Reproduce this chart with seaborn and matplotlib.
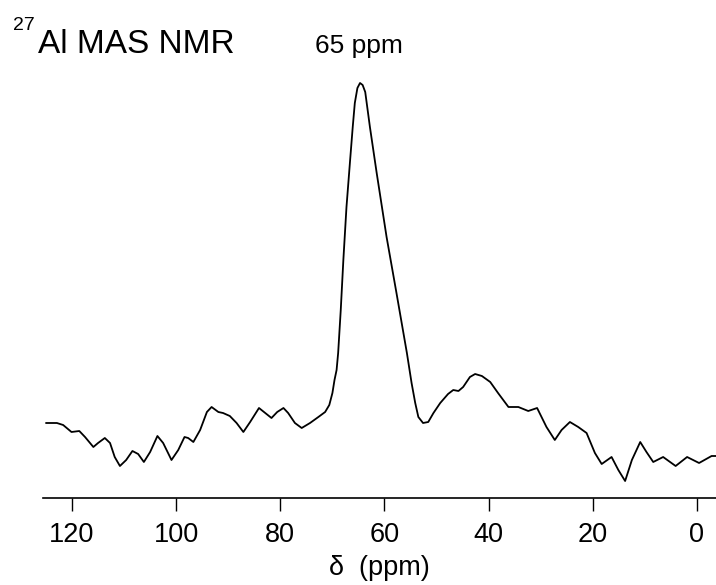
import numpy as np
import pandas as pd
import seaborn as sns
import matplotlib.pyplot as plt

# 27Al MAS NMR spectrum
ppm = [125.0, 122.9, 121.7, 120.1, 118.6, 117.5, 115.9, 115.0, 113.7, 112.7,
       111.8, 110.8, 109.6, 108.4, 107.3, 106.2, 105.0, 103.6, 102.5, 100.9,
       99.6, 98.4, 97.7, 96.7, 95.4, 94.1, 93.2, 91.9, 91.0, 89.7,
       88.4, 87.1, 85.8, 84.1, 82.9, 81.7, 80.6, 79.4, 78.5, 77.2,
       75.9, 74.3, 72.7, 71.4, 70.6, 70.0, 69.6, 69.2, 68.9, 68.4,
       67.9, 67.3, 66.6, 66.1, 65.7, 65.2, 64.7, 64.2, 63.7, 62.8,
       61.5, 59.6, 57.7, 55.7, 54.8, 54.1, 53.5, 52.6, 51.6, 50.6,
       49.3, 47.8, 46.8, 45.8, 44.9, 43.6, 42.6, 41.3, 39.7, 38.2,
       36.2, 34.3, 32.4, 30.7, 28.9, 27.3, 26.0, 24.4, 22.8, 21.2,
       19.6, 18.3, 16.4, 15.1, 13.8, 12.5, 10.9, 9.7, 8.4, 6.5,
       4.1, 1.9, -0.4, -2.8, -3.65]
intensity = [75, 75, 73, 66, 67, 61, 51, 55, 60, 55,
             41, 32, 38, 47, 44, 36, 46, 62, 55, 38,
             48, 61, 60, 56, 68, 86, 91, 86, 85, 82,
             75, 66, 76, 90, 85, 80, 86, 90, 85, 75,
             70, 75, 81, 86, 93, 105, 118, 128, 145, 188,
             238, 291, 338, 371, 395, 410, 415, 413, 406, 371,
             325, 261, 205, 145, 115, 95, 81, 75, 76, 85,
             95, 104, 108, 107, 111, 121, 124, 122, 116, 105,
             91, 91, 87, 90, 71, 58, 68, 76, 71, 65,
             45, 34, 41, 28, 17, 38, 56, 46, 36, 41,
             32, 41, 35, 42, 42]

ticks = [120, 100, 80, 60, 40, 20, 0]

df = pd.DataFrame({'ppm': ppm, 'intensity': intensity})

sns.set_style('ticks')
plt.rcParams['font.family'] = ['Liberation Sans', 'DejaVu Sans']
plt.rcParams['text.color'] = 'black'
plt.rcParams['axes.labelcolor'] = 'black'
plt.rcParams['xtick.color'] = 'black'

W, H = 716, 585
fig = plt.figure(figsize=(W / 100, H / 100), dpi=100)
ax = fig.add_axes([43 / W, 1 - 498 / H, (716 - 43) / W, (498 - 70) / H])

sns.lineplot(data=df, x='ppm', y='intensity', ax=ax, color='black',
             linewidth=1.3, estimator=None, sort=False)

ax.set_xlim(125.57, -3.65)
ax.set_ylim(0, 428)
ax.set_xticks(ticks)
ax.set_xticklabels([str(t) for t in ticks], fontsize=19.5)
ax.set_yticks([])
ax.set_ylabel('')
ax.set_xlabel('δ  (ppm)', fontsize=19.5, labelpad=5)
ax.tick_params(axis='x', direction='out', length=9.5, width=1, pad=8, color='black')
for s in ['top', 'right', 'left']:
    ax.spines[s].set_visible(False)
ax.spines['bottom'].set_linewidth(1.2)
ax.spines['bottom'].set_color('black')
ax.set_facecolor('white')

fig.text(13 / W, 1 - 30 / H, '27', fontsize=14, va='baseline')
fig.text(38 / W, 1 - 53 / H, 'Al MAS NMR', fontsize=24, va='baseline')
fig.text(315 / W, 1 - 53 / H, '65 ppm', fontsize=19, va='baseline')

plt.savefig('out.png', dpi=100)
